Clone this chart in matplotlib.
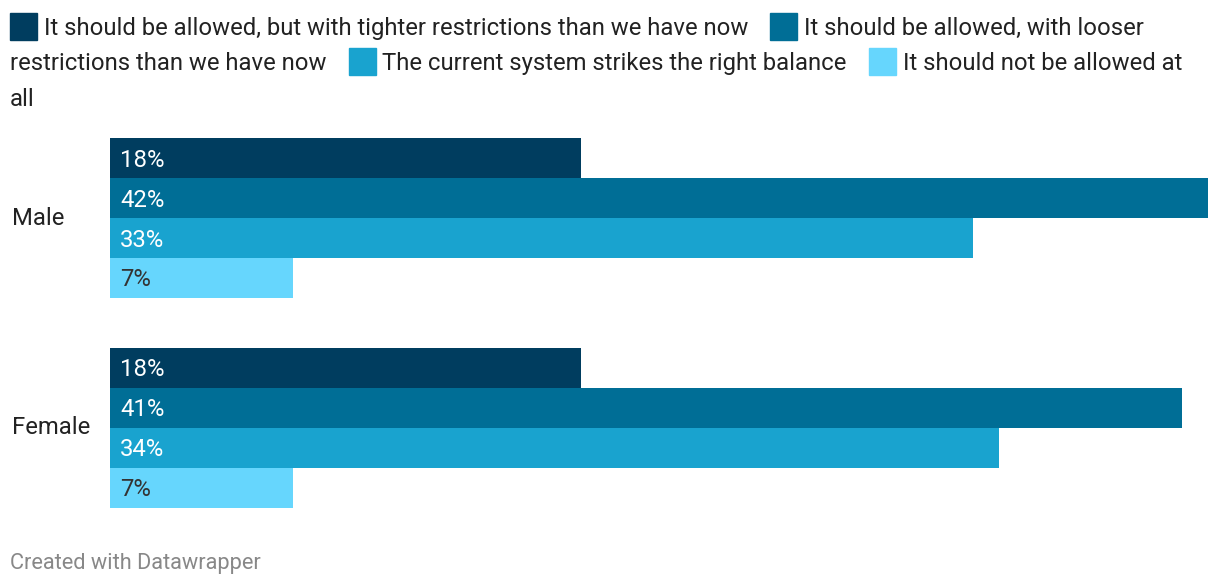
import matplotlib.pyplot as plt
from matplotlib.patches import Rectangle
from matplotlib.transforms import IdentityTransform

groups = ['Male', 'Female']
series = ['It should be allowed, but with tighter restrictions than we have now',
          'It should be allowed, with looser restrictions than we have now',
          'The current system strikes the right balance',
          'It should not be allowed at all']
male = [18, 42, 33, 7]
female = [18, 41, 34, 7]
values = [male, female]

colors = ['#003d5f', '#006e96', '#19a3cf', '#66d6fd']
label_colors = ['white', 'white', 'white', '#333333']

plt.rcParams['font.family'] = ['Roboto', 'DejaVu Sans']

W, H = 1220, 584
fig = plt.figure(figsize=(W / 100, H / 100), dpi=100)
fs = 17.2

# bars
ax = fig.add_axes([110 / W, 1 - 508 / H, (1208 - 110) / W, 370 / H])
gap = 5.25
for g, vals in enumerate(values):
    base = g * gap
    for i, v in enumerate(vals):
        y = base + 0.5 + i
        ax.barh(y, v, height=1, color=colors[i])
        ax.annotate(f'{v}%', xy=(0, y), xytext=(10, -2), textcoords='offset pixels',
                    va='center', ha='left', fontsize=fs, color=label_colors[i])
    ax.annotate(groups[g], xy=(0, base + 1.95), xytext=(-98, -2), textcoords='offset pixels',
                va='center', ha='left', fontsize=fs, color='#222222')
ax.set_xlim(0, max(max(v) for v in values))
ax.set_ylim(gap + 4, 0)
ax.axis('off')

# legend, flowed like the html one
ident = IdentityTransform()
fig.canvas.draw()
r = fig.canvas.get_renderer()


def width(s):
    t = fig.text(0, 0, s, fontsize=fs, transform=ident)
    w = t.get_window_extent(r).width
    t.remove()
    return w


def put(s, x, y):
    fig.text(x, H - y - 2, s, fontsize=fs, va='center', ha='left', color='#222222', transform=ident)


limit = 1212
x, y = 10, 26
line_h = 35.5
for label, c in zip(series, colors):
    if x + 27 > limit:
        x = 10
        y += line_h
    fig.patches.append(Rectangle((x, H - y - 13.5), 27, 27, color=c, transform=ident))
    x += 34
    cur = ''
    for word in label.split():
        test = (cur + ' ' + word).strip()
        if x + width(test) > limit and cur:
            put(cur, x, y)
            x = 10
            y += line_h
            cur = word
        else:
            cur = test
    put(cur, x, y)
    x += width(cur) + 22

fig.text(10, H - 563, 'Created with Datawrapper', fontsize=15.7, color='#888888',
         va='center', ha='left', transform=ident)

fig.savefig('out.png', dpi=100)
